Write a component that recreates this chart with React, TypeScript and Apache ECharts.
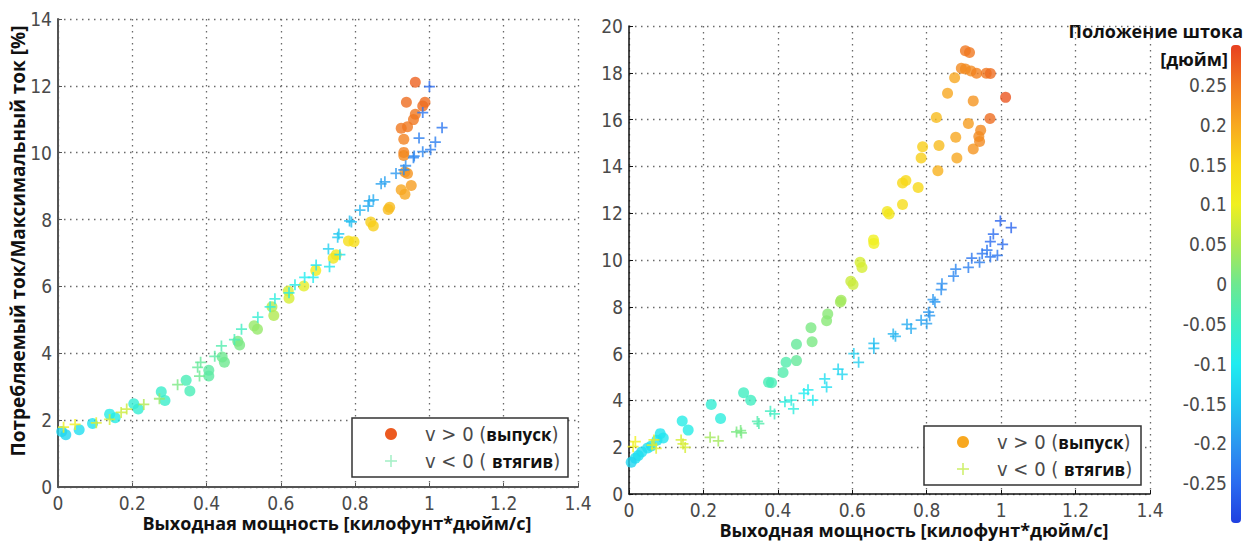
import React, { useEffect, useRef } from "react";
import * as echarts from "echarts";

// ---------- data ----------
const xTicksLabel = ["0", "0.2", "0.4", "0.6", "0.8", "1", "1.2", "1.4"];

// Left panel: v > 0 (выпуск), circles
const leftOutX = [0.962, 0.938, 0.988, 0.982, 0.962, 0.957, 0.941, 0.924, 0.931, 0.931, 0.931, 0.941, 0.934, 0.951, 0.924, 0.934, 0.893, 0.889, 0.842, 0.849, 0.797, 0.782, 0.741, 0.749, 0.694, 0.662, 0.622, 0.62, 0.581, 0.576, 0.537, 0.528, 0.489, 0.484, 0.448, 0.442, 0.406, 0.406, 0.355, 0.345, 0.288, 0.278, 0.216, 0.204, 0.154, 0.139, 0.093, 0.057, 0.021, 0.01];
const leftOutY = [12.11, 11.51, 11.51, 11.4, 11.15, 10.99, 10.78, 10.73, 10.4, 10.01, 9.92, 9.38, 9.42, 9.02, 8.89, 8.76, 8.37, 8.3, 7.93, 7.81, 7.34, 7.36, 6.84, 6.95, 6.48, 6.01, 5.65, 5.86, 5.13, 5.39, 4.72, 4.82, 4.25, 4.36, 3.73, 3.89, 3.32, 3.49, 2.87, 3.19, 2.59, 2.85, 2.33, 2.49, 2.07, 2.18, 1.9, 1.71, 1.56, 1.66];
const leftOutPos = [0.27, 0.26, 0.26, 0.26, 0.25, 0.25, 0.25, 0.25, 0.24, 0.24, 0.23, 0.22, 0.22, 0.21, 0.2, 0.2, 0.18, 0.18, 0.16, 0.16, 0.14, 0.14, 0.12, 0.12, 0.11, 0.09, 0.08, 0.08, 0.05, 0.05, 0.03, 0.03, 0.01, 0.01, 0.0, 0.0, -0.02, -0.02, -0.04, -0.04, -0.06, -0.06, -0.07, -0.07, -0.09, -0.09, -0.11, -0.12, -0.13, -0.13];

// Left panel: v < 0 (втягив), crosses
const leftInX = [1.0, 0.982, 1.034, 0.972, 1.016, 1.003, 0.982, 0.959, 0.957, 0.936, 0.931, 0.91, 0.88, 0.87, 0.849, 0.838, 0.835, 0.813, 0.785, 0.79, 0.756, 0.753, 0.728, 0.759, 0.731, 0.695, 0.687, 0.664, 0.638, 0.622, 0.584, 0.571, 0.538, 0.494, 0.475, 0.44, 0.422, 0.384, 0.376, 0.381, 0.322, 0.273, 0.231, 0.185, 0.17, 0.139, 0.103, 0.046, 0.015];
const leftInY = [11.98, 11.2, 10.75, 10.44, 10.32, 10.09, 10.03, 9.9, 9.85, 9.61, 9.49, 9.38, 9.13, 9.07, 8.59, 8.56, 8.4, 8.28, 7.96, 7.93, 7.57, 7.47, 7.12, 6.95, 6.59, 6.64, 6.27, 6.27, 6.05, 5.81, 5.63, 5.39, 5.08, 4.72, 4.41, 4.22, 3.91, 3.73, 3.58, 3.32, 3.06, 2.64, 2.47, 2.33, 2.23, 2.02, 1.92, 1.87, 1.79];
const leftInPos = [-0.25, -0.24, -0.24, -0.23, -0.23, -0.23, -0.22, -0.22, -0.22, -0.21, -0.21, -0.2, -0.19, -0.19, -0.18, -0.18, -0.18, -0.17, -0.16, -0.16, -0.15, -0.15, -0.14, -0.12, -0.11, -0.11, -0.1, -0.1, -0.09, -0.09, -0.08, -0.08, -0.07, -0.05, -0.04, -0.03, -0.02, -0.01, -0.01, 0.0, 0.01, 0.03, 0.05, 0.07, 0.07, 0.08, 0.09, 0.1, 0.1];

// Right panel: v > 0 (выпуск), circles
const rightOutX = [0.904, 0.915, 0.893, 0.904, 0.919, 0.934, 0.96, 0.971, 0.875, 1.012, 0.856, 0.925, 0.826, 0.97, 0.912, 0.945, 0.94, 0.942, 0.878, 0.789, 0.833, 0.925, 0.785, 0.881, 0.83, 0.744, 0.735, 0.777, 0.735, 0.694, 0.699, 0.657, 0.658, 0.621, 0.626, 0.596, 0.602, 0.57, 0.568, 0.534, 0.531, 0.489, 0.492, 0.45, 0.45, 0.422, 0.414, 0.375, 0.383, 0.308, 0.327, 0.221, 0.246, 0.143, 0.159, 0.084, 0.092, 0.075, 0.06, 0.05, 0.034, 0.025, 0.017, 0.006];
const rightOutY = [18.94, 18.87, 18.19, 18.16, 18.08, 17.98, 17.98, 17.97, 17.79, 16.95, 17.13, 16.8, 16.09, 16.05, 15.83, 15.55, 15.28, 15.06, 15.25, 14.84, 14.89, 14.74, 14.36, 14.36, 13.81, 13.4, 13.29, 13.1, 12.37, 12.07, 11.97, 10.86, 10.71, 9.9, 9.68, 9.09, 8.95, 8.28, 8.21, 7.69, 7.4, 7.1, 6.51, 6.4, 5.7, 5.63, 5.19, 4.78, 4.75, 4.33, 4.01, 3.82, 3.23, 3.12, 2.73, 2.58, 2.39, 2.3, 2.05, 1.97, 1.8, 1.65, 1.53, 1.36];
const rightOutPos = [0.25, 0.25, 0.23, 0.23, 0.23, 0.24, 0.25, 0.26, 0.2, 0.28, 0.2, 0.22, 0.18, 0.26, 0.21, 0.23, 0.23, 0.23, 0.2, 0.16, 0.18, 0.22, 0.16, 0.2, 0.19, 0.15, 0.15, 0.15, 0.14, 0.12, 0.12, 0.1, 0.1, 0.08, 0.08, 0.07, 0.07, 0.04, 0.04, 0.02, 0.02, 0.01, 0.01, -0.01, -0.01, -0.03, -0.03, -0.04, -0.04, -0.05, -0.05, -0.07, -0.08, -0.09, -0.09, -0.11, -0.11, -0.11, -0.11, -0.12, -0.12, -0.12, -0.12, -0.13];

// Right panel: v < 0 (втягив), crosses
const rightInX = [0.998, 1.027, 0.979, 0.971, 1.004, 0.962, 0.949, 0.99, 0.971, 0.921, 0.942, 0.912, 0.878, 0.872, 0.841, 0.839, 0.817, 0.822, 0.805, 0.808, 0.785, 0.8, 0.747, 0.758, 0.71, 0.716, 0.658, 0.658, 0.604, 0.617, 0.562, 0.573, 0.526, 0.531, 0.481, 0.47, 0.494, 0.436, 0.419, 0.442, 0.38, 0.391, 0.345, 0.349, 0.3, 0.289, 0.302, 0.218, 0.24, 0.14, 0.145, 0.151, 0.067, 0.062, 0.073, 0.017, 0.011];
const rightInY = [11.67, 11.38, 11.11, 10.79, 10.67, 10.42, 10.27, 10.2, 10.13, 10.08, 9.9, 9.68, 9.61, 9.31, 8.99, 8.73, 8.31, 8.21, 7.77, 7.62, 7.43, 7.28, 7.25, 7.07, 6.84, 6.74, 6.44, 6.22, 6.0, 5.63, 5.34, 5.11, 4.92, 4.57, 4.45, 4.3, 4.01, 4.01, 3.94, 3.64, 3.54, 3.42, 3.1, 3.01, 2.71, 2.65, 2.61, 2.42, 2.27, 2.31, 2.14, 1.99, 2.31, 2.09, 1.95, 2.24, 2.02];
const rightInPos = [-0.26, -0.26, -0.25, -0.25, -0.25, -0.24, -0.24, -0.24, -0.24, -0.24, -0.23, -0.23, -0.22, -0.22, -0.21, -0.21, -0.2, -0.2, -0.2, -0.2, -0.19, -0.19, -0.18, -0.18, -0.17, -0.17, -0.16, -0.16, -0.14, -0.14, -0.13, -0.13, -0.12, -0.12, -0.1, -0.1, -0.1, -0.08, -0.08, -0.08, -0.05, -0.05, -0.03, -0.03, 0.01, 0.01, 0.01, 0.04, 0.04, 0.08, 0.08, 0.08, 0.09, 0.09, 0.09, 0.1, 0.1];

// Colour scale (rod position, inches)
const colorMin = -0.3;
const colorMax = 0.3;
const JET = ["#2040e0", "#2a6cf0", "#2c98f0", "#20c8f0", "#20ecf0", "#40eec0", "#6ee890", "#b0e850", "#f0f020", "#f8d818", "#f8a820", "#f07820", "#e84020"];

const texts = {
  yTitle: "Потребляемый ток/Максимальный ток [%]",
  xTitle: "Выходная мощность [килофунт*дюйм/с]",
  cbTitle1: "Положение штока",
  cbTitle2: "[дюйм]",
  legOut: "выпуск",
  legIn: "втягив",
};

const build = (xs: number[], ys: number[], ps: number[]) => xs.map((x, i) => [x, ys[i], ps[i]]);

const PLUS = "path://M4.2,0H5.8V4.2H10V5.8H5.8V10H4.2V5.8H0V4.2H4.2Z";
const NARROW = "'Liberation Sans Narrow','DejaVu Sans Condensed','Liberation Sans',sans-serif";
const BOLD = "'Open Sans','Noto Sans',sans-serif";
const TICK_COLOR = "#4a4a4a";
const TICK_SIZE = 19;

function axisPair(grid: number, xmax: number, ymax: number, axisColor: string, axisW: number) {
  const common = {
    gridIndex: grid,
    type: "value" as const,
    axisLine: { show: true, onZero: false, lineStyle: { color: axisColor, width: axisW } },
    axisTick: { show: true, inside: true, length: 4, lineStyle: { color: axisColor, width: 1 } },
    axisLabel: { color: TICK_COLOR, fontFamily: NARROW, fontSize: TICK_SIZE, margin: 6 },
    splitLine: { show: true, lineStyle: { type: [1.5, 4.5], color: "#6a6a6a", width: 1.3 } },
  };
  return {
    x: { ...common, min: 0, max: xmax, interval: 0.2 },
    y: { ...common, min: 0, max: ymax, interval: 2 },
  };
}

function legend(x: number, y: number, w: number, h: number, circColor: string, crossColor: string) {
  const rich = {
    a: { fontFamily: NARROW, fontSize: 20, fill: TICK_COLOR },
    b: { fontFamily: BOLD, fontSize: 17, fontWeight: "bold", fill: "#111" },
  };
  return [
    { type: "rect", shape: { x, y, width: w, height: h }, style: { fill: "#fff", stroke: "#333", lineWidth: 1.5 }, z: 100 },
    { type: "circle", shape: { cx: x + 39, cy: y + 16, r: 6 }, style: { fill: circColor }, z: 101 },
    { type: "rect", shape: { x: x + 33, y: y + 42.2, width: 12, height: 1.6 }, style: { fill: crossColor }, z: 101 },
    { type: "rect", shape: { x: x + 38.2, y: y + 37, width: 1.6, height: 12 }, style: { fill: crossColor }, z: 101 },
    { type: "text", z: 101, style: { x: x + 73, y: y + 16, text: `{a|v > 0 (}{b|${texts.legOut}}{a|)}`, rich, align: "left", verticalAlign: "middle", textAlign: "left", textVerticalAlign: "middle" } },
    { type: "text", z: 101, style: { x: x + 73, y: y + 43, text: `{a|v < 0 ( }{b|${texts.legIn}}{a|)}`, rich, align: "left", verticalAlign: "middle", textAlign: "left", textVerticalAlign: "middle" } },
  ];
}

export default function App() {
  const ref = useRef<HTMLDivElement>(null);
  useEffect(() => {
    if (!ref.current) return;
    const chart = echarts.init(ref.current, null, { renderer: "svg" });
    const L = axisPair(0, 1.4, 14, "#555", 2);
    const R = axisPair(1, 1.4, 20, "#111", 1.5);
    const stops = JET.map((c, i) => ({ offset: i / (JET.length - 1), color: c }));
    const titleFont = `bold 18px ${BOLD}`;
    const yTitleFont = `bold 19px ${BOLD}`;
    chart.setOption({
      animation: false,
      backgroundColor: "#fff",
      grid: [
        { left: 58, top: 19, width: 520, height: 468 },
        { left: 629, top: 26, width: 521, height: 468 },
        { left: 1231, top: 45, width: 10, height: 478 },
      ],
      xAxis: [
        { ...L.x, axisLabel: { ...L.x.axisLabel, formatter: (v: number) => xTicksLabel[Math.round(v / 0.2)] } },
        { ...R.x, axisLabel: { ...R.x.axisLabel, formatter: (v: number) => xTicksLabel[Math.round(v / 0.2)] } },
        { gridIndex: 2, type: "value", min: 0, max: 1, show: false },
      ],
      yAxis: [
        L.y,
        R.y,
        {
          gridIndex: 2,
          type: "value",
          min: colorMin,
          max: colorMax,
          interval: 0.05,
          axisLine: { show: false },
          axisTick: { show: false },
          splitLine: { show: false },
          axisLabel: {
            showMinLabel: false,
            showMaxLabel: false,
            margin: 4,
            color: TICK_COLOR,
            fontFamily: NARROW,
            fontSize: TICK_SIZE,
            formatter: (v: number) => String(Number(v.toFixed(2))),
          },
        },
      ],
      visualMap: {
        type: "continuous",
        show: false,
        min: colorMin,
        max: colorMax,
        dimension: 2,
        seriesIndex: [0, 1, 2, 3],
        inRange: { color: JET },
      },
      series: [
        { type: "scatter", xAxisIndex: 0, yAxisIndex: 0, symbol: "circle", symbolSize: 11, data: build(leftOutX, leftOutY, leftOutPos) },
        { type: "scatter", xAxisIndex: 0, yAxisIndex: 0, symbol: PLUS, symbolSize: 11, data: build(leftInX, leftInY, leftInPos) },
        { type: "scatter", xAxisIndex: 1, yAxisIndex: 1, symbol: "circle", symbolSize: 11, data: build(rightOutX, rightOutY, rightOutPos) },
        { type: "scatter", xAxisIndex: 1, yAxisIndex: 1, symbol: PLUS, symbolSize: 11, data: build(rightInX, rightInY, rightInPos) },
      ],
      graphic: [
        {
          type: "text",
          x: 18,
          y: 241,
          rotation: Math.PI / 2,
          style: { text: texts.yTitle, font: yTitleFont, fill: "#111", align: "center", verticalAlign: "middle", textAlign: "center", textVerticalAlign: "middle" },
        },
        { type: "text", style: { x: 337, y: 523, text: texts.xTitle, font: titleFont, fill: "#111", align: "center", verticalAlign: "middle", textAlign: "center", textVerticalAlign: "middle" } },
        { type: "text", style: { x: 914, y: 530, text: texts.xTitle, font: titleFont, fill: "#111", align: "center", verticalAlign: "middle", textAlign: "center", textVerticalAlign: "middle" } },
        { type: "text", style: { x: 1243, y: 31, text: texts.cbTitle1, font: titleFont, fill: "#111", align: "right", verticalAlign: "middle", textAlign: "right", textVerticalAlign: "middle" } },
        { type: "text", style: { x: 1228, y: 59, text: texts.cbTitle2, font: titleFont, fill: "#111", align: "right", verticalAlign: "middle", textAlign: "right", textVerticalAlign: "middle" } },
        {
          type: "rect",
          shape: { x: 1231, y: 45, width: 10, height: 478, r: 4 },
          style: { fill: new echarts.graphic.LinearGradient(0, 1, 0, 0, stops) },
        },
        ...legend(352, 418, 216, 59, "#ec5a20", "#a8f0c8"),
        ...legend(924, 426, 217, 59, "#f8a820", "#d0f070"),
      ],
    });
    return () => chart.dispose();
  }, []);
  return <div ref={ref} style={{ position: "absolute", left: 0, top: 0, width: 1253, height: 542, background: "#fff" }} />;
}
